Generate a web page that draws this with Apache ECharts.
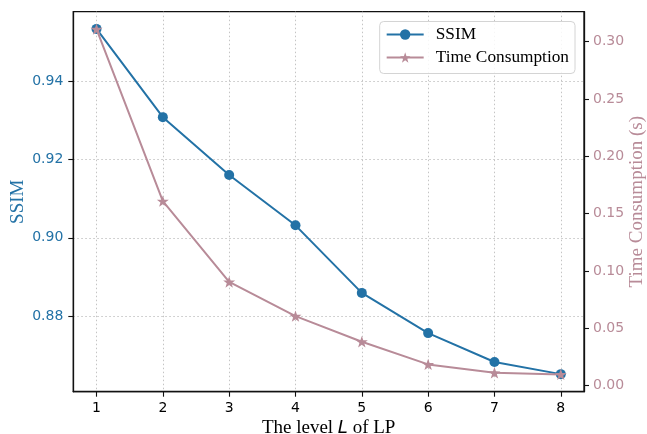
<!DOCTYPE html>
<html>
<head>
<meta charset="utf-8">
<script src="https://cdn.jsdelivr.net/npm/echarts@6/dist/echarts.min.js"></script>
<style>
  html, body { margin: 0; padding: 0; background: #fff; }
  #chart { width: 647px; height: 434px; }
</style>
</head>
<body>
<div id="chart"></div>
<script>
// Pyramid level L (x axis)
const levels = [1, 2, 3, 4, 5, 6, 7, 8];
// SSIM per level (left axis)
const ssim = [0.9535, 0.9309, 0.9161, 0.9032, 0.8859, 0.8756, 0.8682, 0.8651];
// Time consumption in seconds per level (right axis)
const timeCost = [0.311, 0.161, 0.0905, 0.0607, 0.0384, 0.0186, 0.0113, 0.0099];

// Tick positions
const xTicks = [1, 2, 3, 4, 5, 6, 7, 8];
const ssimTicks = [0.88, 0.90, 0.92, 0.94];
const timeTicks = [0.00, 0.05, 0.10, 0.15, 0.20, 0.25, 0.30];

const blue = '#2372a6';
const pink = '#b88b98';
const star = 'path://M0,-10 L2.35,-3.24 L9.51,-3.09 L3.8,1.24 L5.88,8.09 L0,4 L-5.88,8.09 L-3.8,1.24 L-9.51,-3.09 L-2.35,-3.24 Z';

const tickFont = { fontFamily: 'DejaVu Sans', fontSize: 14 };
const serif = 'Liberation Serif';

const chart = echarts.init(document.getElementById('chart'), null, { renderer: 'canvas' });

chart.setOption({
  animation: false,
  backgroundColor: '#fff',
  grid: {
    left: 73.3, right: 63, top: 11.7, bottom: 42.3,
    containLabel: false,
    outerBoundsMode: 'none',
    show: true, borderColor: '#111', borderWidth: 1.3, backgroundColor: 'transparent'
  },
  legend: {
    orient: 'vertical',
    right: 72, top: 21.5,
    padding: [4, 6, 7, 6],
    itemWidth: 37, itemHeight: 13, itemGap: 5,
    borderColor: '#d4d4d4', borderWidth: 1, borderRadius: 4,
    backgroundColor: 'rgba(255,255,255,0.85)',
    textStyle: { fontFamily: serif, fontSize: 17.3, color: '#000', lineHeight: 18, padding: [0, 0, 0, 7] },
    data: ['SSIM', 'Time Consumption']
  },
  xAxis: {
    type: 'value',
    min: 0.65, max: 8.35,
    name: '{a|The level }{it|L}{a| of LP}',
    nameLocation: 'middle',
    nameGap: 27,
    nameMoveOverlap: false,
    nameTextStyle: {
      rich: {
        a: { fontFamily: serif, fontSize: 19, color: '#000' },
        it: { fontFamily: 'DejaVu Sans', fontStyle: 'italic', fontSize: 18, color: '#000' }
      }
    },
    axisLine: { show: true, onZero: false, lineStyle: { color: '#111', width: 1.3 } },
    axisTick: { show: true, inside: false, length: 5, customValues: xTicks, lineStyle: { color: '#111', width: 1.1 } },
    axisLabel: { ...tickFont, color: '#000', margin: 10, customValues: xTicks, formatter: v => String(v) },
    splitLine: { show: true, lineStyle: { color: '#c4c4c4', width: 1, type: [1.5, 2.5] } }
  },
  yAxis: [
    {
      type: 'value',
      position: 'left',
      min: 0.8606, max: 0.9579,
      name: 'SSIM',
      nameLocation: 'middle',
      nameRotate: 90,
      nameGap: 46,
      nameMoveOverlap: false,
      nameTextStyle: { fontFamily: serif, fontSize: 19, color: blue },
      axisLine: { show: true, onZero: false, lineStyle: { color: '#111', width: 1.3 } },
      axisTick: { show: true, length: 5, customValues: ssimTicks, lineStyle: { color: '#111', width: 1.1 } },
      axisLabel: { ...tickFont, color: blue, margin: 10, customValues: ssimTicks, formatter: v => v.toFixed(2) },
      splitLine: { show: true, lineStyle: { color: '#c4c4c4', width: 1, type: [1.5, 2.5] } }
    },
    {
      type: 'value',
      position: 'right',
      min: -0.0052, max: 0.3262,
      name: 'Time Consumption (s)',
      nameLocation: 'middle',
      nameRotate: 90,
      nameGap: 44,
      nameMoveOverlap: false,
      nameTextStyle: { fontFamily: serif, fontSize: 19, color: pink },
      axisLine: { show: true, onZero: false, lineStyle: { color: '#111', width: 1.3 } },
      axisTick: { show: true, length: 5, customValues: timeTicks, lineStyle: { color: '#111', width: 1.1 } },
      axisLabel: { ...tickFont, color: pink, margin: 9, customValues: timeTicks, formatter: v => v.toFixed(2) },
      splitLine: { show: false }
    }
  ],
  series: [
    {
      name: 'SSIM',
      type: 'line',
      yAxisIndex: 0,
      data: levels.map((l, i) => [l, ssim[i]]),
      symbol: 'circle',
      symbolSize: 10,
      itemStyle: { color: blue },
      lineStyle: { color: blue, width: 2 },
      z: 2
    },
    {
      name: 'Time Consumption',
      type: 'line',
      yAxisIndex: 1,
      data: levels.map((l, i) => [l, timeCost[i]]),
      symbol: star,
      symbolKeepAspect: true,
      symbolSize: 12,
      itemStyle: { color: pink },
      lineStyle: { color: pink, width: 2 },
      z: 3
    }
  ]
});
</script>
</body>
</html>
